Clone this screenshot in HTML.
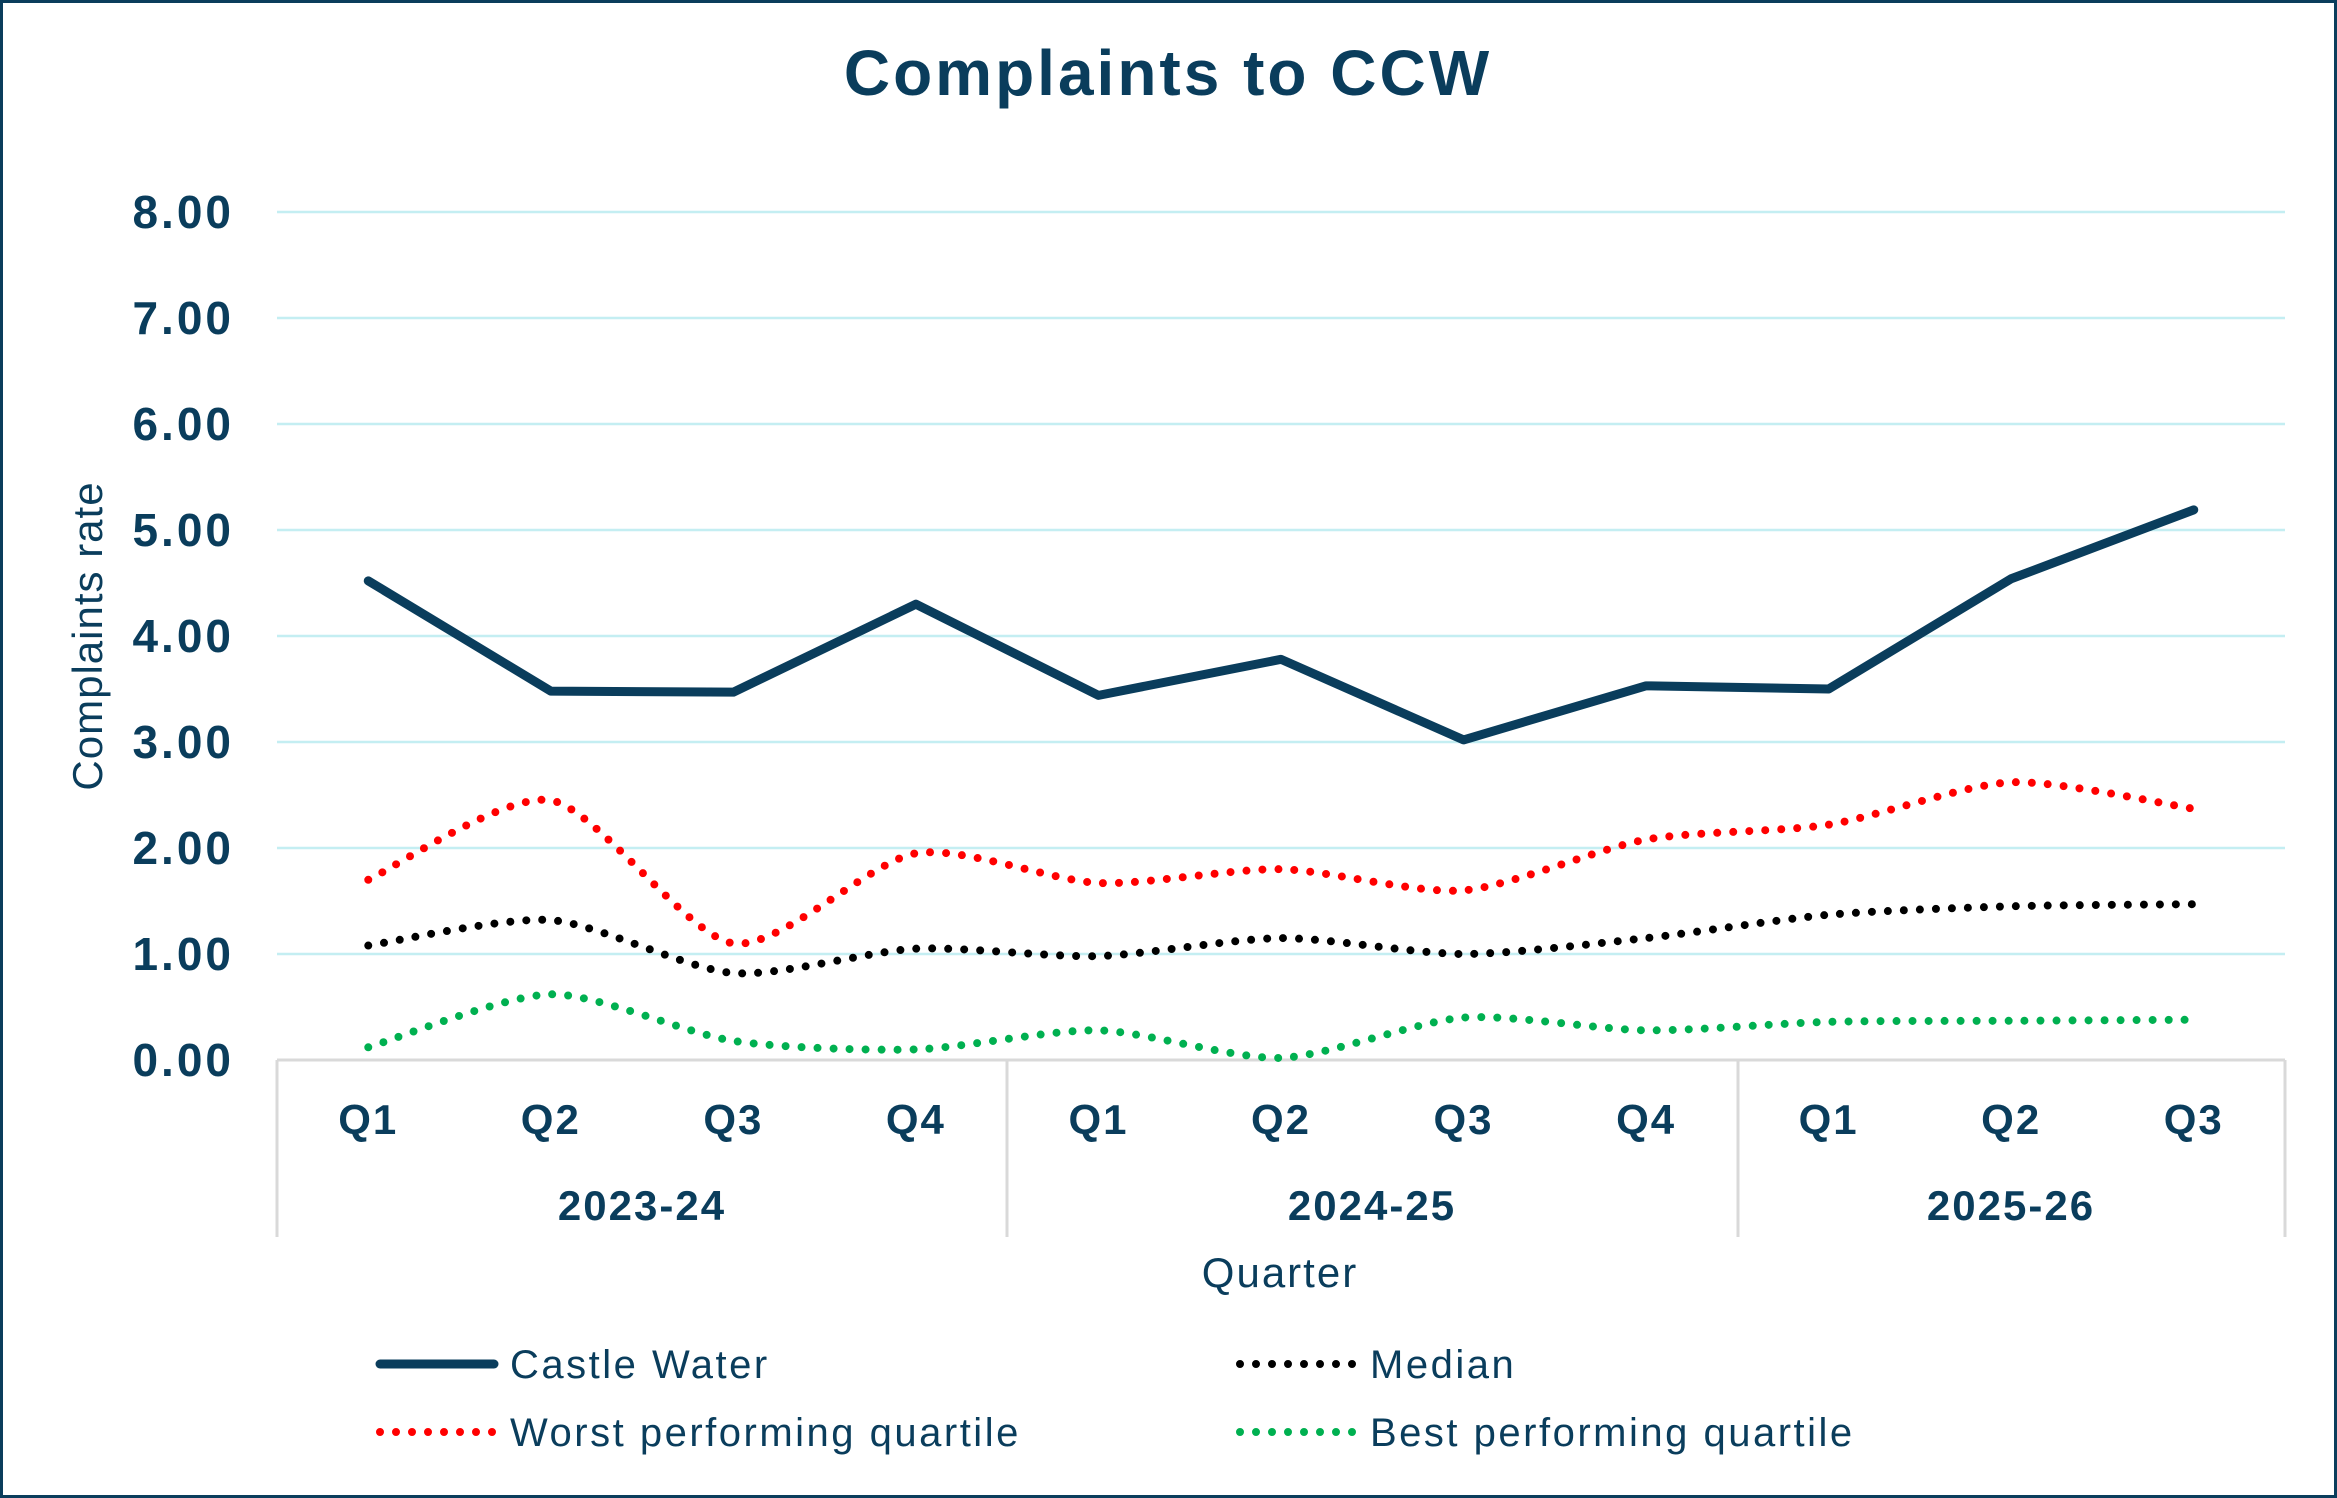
<!DOCTYPE html>
<html><head><meta charset="utf-8"><style>
html,body{margin:0;padding:0;background:#fff}
svg{display:block}
text{font-family:"Liberation Sans",sans-serif;fill:#0a3d5c}
</style></head><body>
<svg id="c" width="2337" height="1498" viewBox="0 0 2337 1498" xmlns="http://www.w3.org/2000/svg">
<rect x="1.5" y="1.5" width="2334" height="1495" fill="#fff" stroke="#0a3d5c" stroke-width="3"/>
<text x="1168" y="95" font-size="64" font-weight="bold" text-anchor="middle" letter-spacing="3">Complaints to CCW</text>
<g id="grid"></g>
<text transform="translate(102,636) rotate(-90)" font-size="42" text-anchor="middle" letter-spacing="1">Complaints rate</text>
<text x="1280" y="1287" font-size="42" text-anchor="middle" letter-spacing="2">Quarter</text>
<g id="series"></g>
<line x1="380" y1="1364" x2="494" y2="1364" stroke="#0a3d5c" stroke-width="9" stroke-linecap="round"/>
<text x="510" y="1378" font-size="40" letter-spacing="2.5">Castle Water</text>
<line x1="1240" y1="1364" x2="1359" y2="1364" stroke="#000" stroke-width="8" stroke-linecap="round" stroke-dasharray="0 16"/>
<text x="1370" y="1378" font-size="40" letter-spacing="2.5">Median</text>
<line x1="380" y1="1432" x2="494" y2="1432" stroke="#ff0000" stroke-width="8" stroke-linecap="round" stroke-dasharray="0 16"/>
<text x="510" y="1446" font-size="40" letter-spacing="2.5">Worst performing quartile</text>
<line x1="1240" y1="1432" x2="1359" y2="1432" stroke="#00b050" stroke-width="8" stroke-linecap="round" stroke-dasharray="0 16"/>
<text x="1370" y="1446" font-size="40" letter-spacing="2.5">Best performing quartile</text>
</svg>
<script>
var NS="http://www.w3.org/2000/svg";
var L=277,R=2285,Y0=1060,U=106,cw=(R-L)/11;
function X(i){return L+cw*(i+0.5)}
function Y(v){return Y0-v*U}
function el(t,a,p,txt){var e=document.createElementNS(NS,t);for(var k in a)e.setAttribute(k,a[k]);if(txt)e.textContent=txt;p.appendChild(e);return e}
var g=document.getElementById('grid');
for(var v=1;v<=8;v++)el('line',{x1:L,x2:R,y1:Y(v),y2:Y(v),stroke:'#c4eef2','stroke-width':2.5},g);
for(var v=0;v<=8;v++)el('text',{x:234,y:Y(v)+16,'font-size':46,'font-weight':'bold','text-anchor':'end','letter-spacing':3},g,v+'.00');
el('line',{x1:L,x2:R,y1:Y0,y2:Y0,stroke:'#d9d9d9','stroke-width':3},g);
[277,1007,1738,2285].forEach(function(x){el('line',{x1:x,x2:x,y1:Y0,y2:1237,stroke:'#d9d9d9','stroke-width':3},g)});
var q=['Q1','Q2','Q3','Q4','Q1','Q2','Q3','Q4','Q1','Q2','Q3'];
q.forEach(function(t,i){el('text',{x:X(i),y:1134,'font-size':42,'font-weight':'bold','text-anchor':'middle','letter-spacing':2},g,t)});
[['2023-24',642],['2024-25',1372],['2025-26',2011]].forEach(function(a){el('text',{x:a[1],y:1220,'font-size':42,'font-weight':'bold','text-anchor':'middle','letter-spacing':2},g,a[0])});
var s=document.getElementById('series');
function smooth(d){var p=d.map(function(v,i){return[X(i),Y(v)]});var s='M'+p[0][0]+','+p[0][1];
for(var i=0;i<p.length-1;i++){var p0=p[i-1]||p[i],p1=p[i],p2=p[i+1],p3=p[i+2]||p[i+1],t=8;
s+=' C'+(p1[0]+(p2[0]-p0[0])/t)+','+(p1[1]+(p2[1]-p0[1])/t)+' '+(p2[0]-(p3[0]-p1[0])/t)+','+(p2[1]-(p3[1]-p1[1])/t)+' '+p2[0]+','+p2[1];}return s}
var best=[0.12,0.62,0.18,0.10,0.28,0.02,0.40,0.28,0.36,0.37,0.38];
var med=[1.08,1.32,0.82,1.05,0.98,1.15,1.00,1.15,1.37,1.45,1.47];
var worst=[1.70,2.45,1.10,1.95,1.67,1.80,1.60,2.08,2.22,2.62,2.37];
var cas=[4.52,3.48,3.47,4.30,3.44,3.78,3.02,3.53,3.50,4.54,5.19];
[[best,'#00b050'],[med,'#000'],[worst,'#ff0000']].forEach(function(a){el('path',{d:smooth(a[0]),fill:'none',stroke:a[1],'stroke-width':8,'stroke-linecap':'round','stroke-dasharray':'0 16'},s)});
el('polyline',{points:cas.map(function(v,i){return X(i)+','+Y(v)}).join(' '),fill:'none',stroke:'#0a3d5c','stroke-width':9,'stroke-linecap':'round','stroke-linejoin':'round'},s);
</script>
</body></html>
